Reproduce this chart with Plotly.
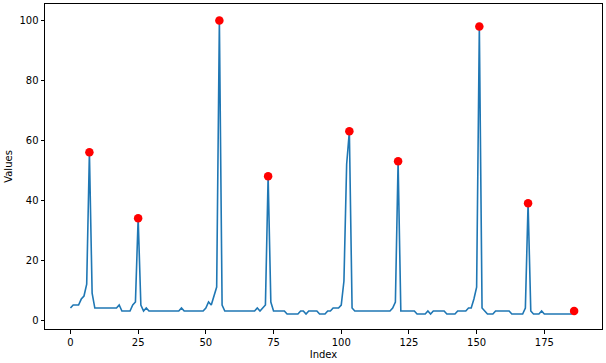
import plotly.graph_objects as go

values = [
    4, 5, 5, 5, 7, 8, 12, 56, 9, 4,            # 0-9
    4, 4, 4, 4, 4, 4, 4, 4, 5, 3,              # 10-19
    3, 3, 3, 5, 6, 34, 5, 3, 4, 3,             # 20-29
    3, 3, 3, 3, 3, 3, 3, 3, 3, 3,              # 30-39
    3, 4, 3, 3, 3, 3, 3, 3, 3, 3,              # 40-49
    4, 6, 5, 8, 11, 100, 5, 3, 3, 3,           # 50-59
    3, 3, 3, 3, 3, 3, 3, 3, 3, 4,              # 60-69
    3, 4, 5, 48, 6, 3, 3, 3, 3, 3,             # 70-79
    2, 2, 2, 2, 2, 3, 3, 2, 3, 3,              # 80-89
    3, 3, 2, 2, 2, 3, 3, 4, 4, 4,              # 90-99
    5, 13, 52, 63, 4, 3, 3, 3, 3, 3,           # 100-109
    3, 3, 3, 3, 3, 3, 3, 3, 3, 4,              # 110-119
    6, 53, 3, 3, 3, 3, 3, 3, 2, 2,             # 120-129
    2, 2, 3, 2, 3, 3, 3, 3, 3, 2,              # 130-139
    2, 2, 2, 3, 3, 3, 3, 4, 4, 7,              # 140-149
    11, 98, 4, 3, 2, 2, 2, 3, 3, 3,            # 150-159
    3, 3, 3, 2, 2, 2, 2, 2, 4, 39,             # 160-169
    3, 2, 2, 2, 3, 2, 2, 2, 2, 2,              # 170-179
    2, 2, 2, 2, 2, 2, 3,                       # 180-186
]
index = list(range(len(values)))
peak_idx = [7, 25, 55, 73, 103, 121, 151, 169, 186]
peak_vals = [values[i] for i in peak_idx]

x_ticks = [0, 25, 50, 75, 100, 125, 150, 175]
y_ticks = [0, 20, 40, 60, 80, 100]

fig = go.Figure()
fig.add_trace(go.Scatter(
    x=index, y=values, mode="lines",
    line=dict(color="#1f77b4", width=1.6),
    hoverinfo="skip", showlegend=False,
))
fig.add_trace(go.Scatter(
    x=peak_idx, y=peak_vals, mode="markers",
    marker=dict(color="red", size=8.5, line=dict(width=0)),
    showlegend=False,
))

axis_common = dict(
    showline=True, mirror=True, linecolor="black", linewidth=1,
    ticks="outside", ticklen=3.5, tickwidth=1, tickcolor="black",
    showgrid=False, zeroline=False,
    tickfont=dict(family="DejaVu Sans", size=10, color="black"),
)

fig.update_layout(
    width=606, height=363,
    margin=dict(l=45, r=4, t=4, b=34, autoexpand=False),
    paper_bgcolor="white", plot_bgcolor="white",
    xaxis=dict(range=[-9.4, 196.3], tickvals=x_ticks,
               title=dict(text="Index", font=dict(family="DejaVu Sans", size=10, color="black"), standoff=4),
               **axis_common),
    yaxis=dict(range=[-3.0, 105.5], tickvals=y_ticks,
               title=dict(text="Values", font=dict(family="DejaVu Sans", size=10, color="black"), standoff=4),
               **axis_common),
)

fig.write_html(
    "out.html",
    config={"displayModeBar": False},
    post_script="document.body.style.margin='0';document.body.style.padding='0';",
)
